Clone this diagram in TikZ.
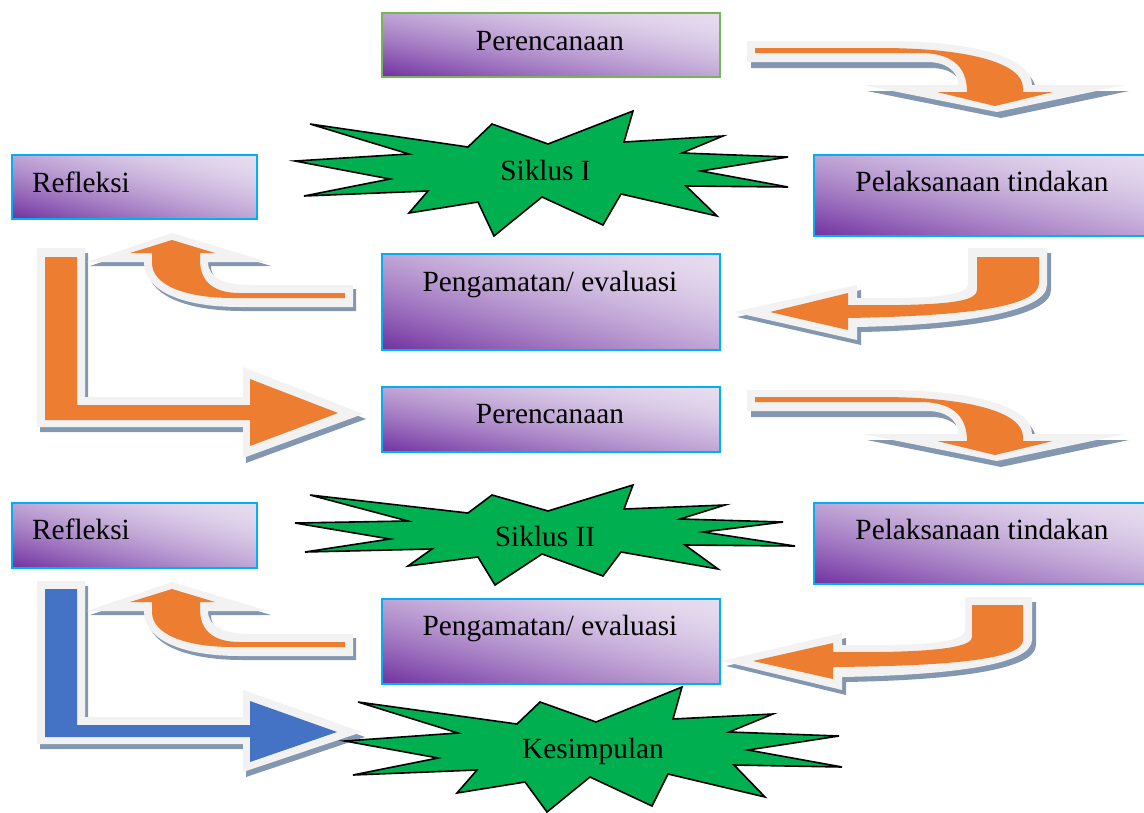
\documentclass[tikz,border=0pt]{standalone}
\usepackage{fontspec}
\setmainfont{Liberation Serif}
\definecolor{orng}{HTML}{ED7D31}
\definecolor{bandc}{HTML}{F2F2F2}
\definecolor{shdc}{HTML}{8497B0}
\definecolor{blu}{HTML}{4472C4}
\definecolor{starg}{HTML}{00B050}
\definecolor{bordb}{HTML}{00B0F0}
\definecolor{bordg}{HTML}{77B55A}
\pgfdeclarefunctionalshading{boxgrad}{\pgfpoint{-50bp}{-50bp}}{\pgfpoint{50bp}{50bp}}{}{
  add 50 add 100 div
  dup 0 lt {pop 0} if
  dup 1 gt {pop 1} if
  1 exch sub 1.6 exp
  dup 0.4627 mul 0.9020 exch sub
  exch dup 0.6745 mul 0.8627 exch sub
  exch 0.3098 mul 0.9373 exch sub
}
\tikzset{
  box/.style={draw=bordb, line width=2pt, shading=boxgrad, anchor=north west, inner sep=0pt},
  lbl/.style={font=\fontsize{29.3}{34}\selectfont, inner sep=0pt, text=black},
  starshape/.style={fill=starg, draw=black, line width=1.6pt, line join=miter},
  shd/.style={fill=shdc},
  band/.style={fill=bandc},
  ofill/.style={fill=orng},
  bfill/.style={fill=blu},
}
% arrow shapes
\def\WA{(747,41) -- (885,41) .. controls (975,41) and (1032,58) .. (1032,85) -- (1125,85) -- (997,112) -- (863,85) -- (958,85) .. controls (958,70) and (945,62) .. (927,62) -- (747,62) -- cycle}
\def\OA{(755,48) -- (880,48) .. controls (965,48) and (1023,62) .. (1023,88) -- (1023,92) -- (1053,92) -- (995,106) -- (937,92) -- (967,92) .. controls (967,65) and (950,53) .. (920,53) -- (755,53) -- cycle}
\def\WB{(968,248) -- (1047,248) -- (1047,285) .. controls (1047,312) and (960,325) .. (857,327) -- (857,340) -- (733,312) -- (857,285) -- (857,298) -- (900,298) .. controls (950,297) and (968,293) .. (968,283) -- cycle}
\def\OB{(977,257) -- (1039,257) -- (1039,283) .. controls (1039,308) and (960,316) .. (848,318) -- (848,330) -- (770,312) -- (848,293) -- (848,305) -- (900,305) .. controls (955,304) and (977,300) .. (977,290) -- cycle}
\def\WBB{(965,597) -- (1032,597) -- (1032,640) .. controls (1032,665) and (950,675) .. (842,677) -- (842,690) -- (722,661) -- (842,633) -- (842,645) -- (890,645) .. controls (940,644) and (965,640) .. (965,630) -- cycle}
\def\OBB{(972,605) -- (1023,605) -- (1023,640) .. controls (1023,660) and (945,666) .. (833,667) -- (833,679) -- (753,661) -- (833,643) -- (833,652) -- (880,652) .. controls (950,651) and (972,645) .. (972,637) -- cycle}
\def\WC{(353,285) -- (353,307) -- (240,307) .. controls (180,307) and (144,290) .. (144,262) -- (87,262) -- (172,233) -- (268,262) -- (208,262) .. controls (208,278) and (225,285) .. (250,285) -- cycle}
\def\OC{(345,293) -- (345,298) -- (233,298) .. controls (185,298) and (152,285) .. (152,263) -- (152,253) -- (130,253) -- (172,240) -- (215,253) -- (200,253) -- (200,260) .. controls (200,283) and (215,293) .. (240,293) -- cycle}
\def\WD{(37,248) -- (85,248) -- (85,397) -- (243,397) -- (243,367) -- (363,414) -- (243,458) -- (243,427) -- (37,427) -- cycle}
\def\OD{(45,257) -- (77,257) -- (77,405) -- (250,405) -- (250,379) -- (338,413) -- (250,446) -- (250,420) -- (45,420) -- cycle}
\def\WDD{(37,581) -- (85,581) -- (85,717) -- (243,717) -- (243,690) -- (362,732) -- (243,772) -- (243,744) -- (37,744) -- cycle}
\def\ODD{(45,589) -- (77,589) -- (77,725) -- (250,725) -- (250,701) -- (337,732) -- (250,762) -- (250,737) -- (45,737) -- cycle}
\begin{document}
\begin{tikzpicture}[x=1pt,y=-1pt]
\useasboundingbox (0,0) rectangle (1144,812);
\clip (0,0) rectangle (1144,812);

% boxes
\node[box, draw=bordg, minimum width=338pt, minimum height=64pt] (plan1) at (381,12) {};
\node[box, minimum width=245pt, minimum height=64pt] (refl1) at (11,154) {};
\node[box, minimum width=347pt, minimum height=81pt] (pel1) at (813,154) {};
\node[box, minimum width=338pt, minimum height=96pt] (peng1) at (381,253) {};
\node[box, minimum width=338pt, minimum height=65pt] (plan2) at (381,386) {};
\node[box, minimum width=245pt, minimum height=65pt] (refl2) at (11,502) {};
\node[box, minimum width=347pt, minimum height=81pt] (pel2) at (813,502) {};
\node[box, minimum width=338pt, minimum height=85pt] (peng2) at (381,598) {};

% arrows, first cycle
\begin{scope}
  \fill[shd, shift={(4,6)}] \WA;  \fill[band] \WA;  \fill[ofill] \OA;
  \fill[shd, shift={(4,5)}] \WB;  \fill[band] \WB;  \fill[ofill] \OB;
  \fill[shd, shift={(3,5)}] \WD;  \fill[band] \WD;  \fill[ofill] \OD;
  \fill[shd, shift={(3,4)}] \WC;  \fill[band] \WC;  \fill[ofill] \OC;
\end{scope}
% arrows, second cycle
\begin{scope}[shift={(0,349)}]
  \fill[shd, shift={(4,6)}] \WA;  \fill[band] \WA;  \fill[ofill] \OA;
\end{scope}
\fill[shd, shift={(4,5)}] \WBB;  \fill[band] \WBB;  \fill[ofill] \OBB;
\fill[shd, shift={(3,5)}] \WDD;  \fill[band] \WDD;  \fill[bfill] \ODD;
\begin{scope}[shift={(0,349)}]
  \fill[shd, shift={(3,4)}] \WC;  \fill[band] \WC;  \fill[ofill] \OC;
\end{scope}

% stars
\draw[starshape] (310,124) -- (468,147) -- (492,124) -- (548,144) -- (633,111) -- (624,142) -- (723,136) -- (682,153) -- (788,157) -- (701,171) -- (788,187) -- (686,186) -- (717,216) -- (621,194) -- (603,225) -- (542,197) -- (494,236) -- (478,202) -- (409,213) -- (428,191) -- (304,196) -- (390,179) -- (295,161) -- (409,154) -- cycle;
\draw[starshape] (310,495) -- (468,513) -- (492,495) -- (548,511) -- (633,485) -- (624,509) -- (725,505) -- (680,519) -- (783,522) -- (703,532) -- (795,546) -- (685,545) -- (718,569) -- (621,552) -- (603,576) -- (542,554) -- (495,585) -- (478,557) -- (408,566) -- (432,549) -- (305,552) -- (390,539) -- (295,523) -- (408,521) -- cycle;
\draw[starshape] (358,702) -- (517,724) -- (540,702) -- (596,722) -- (682,687) -- (673,719) -- (773,714) -- (729,732) -- (839,736) -- (748,750) -- (842,767) -- (734,765) -- (765,797) -- (668,774) -- (652,806) -- (590,777) -- (547,812) -- (525,782) -- (457,793) -- (477,770) -- (353,775) -- (438,758) -- (345,741) -- (458,733) -- cycle;

% labels
\node[lbl, anchor=base] (tplan1) at (550,50) {Perencanaan};
\node[lbl, anchor=base west] (trefl1) at (32,192) {Refleksi};
\node[lbl, anchor=base] (tpel1) at (982,191) {Pelaksanaan tindakan};
\node[lbl, anchor=base] (tsik1) at (545.5,180) {Siklus I};
\node[lbl, anchor=base] (tpeng1) at (550,291) {Pengamatan/ evaluasi};
\node[lbl, anchor=base] (tplan2) at (550,423) {Perencanaan};
\node[lbl, anchor=base west] (trefl2) at (32,539) {Refleksi};
\node[lbl, anchor=base] (tpel2) at (982,539) {Pelaksanaan tindakan};
\node[lbl, anchor=base] (tsik2) at (545,546) {Siklus II};
\node[lbl, anchor=base] (tpeng2) at (550,635) {Pengamatan/ evaluasi};
\node[lbl, anchor=base] (tkes) at (593,758) {Kesimpulan};
\end{tikzpicture}
\end{document}
